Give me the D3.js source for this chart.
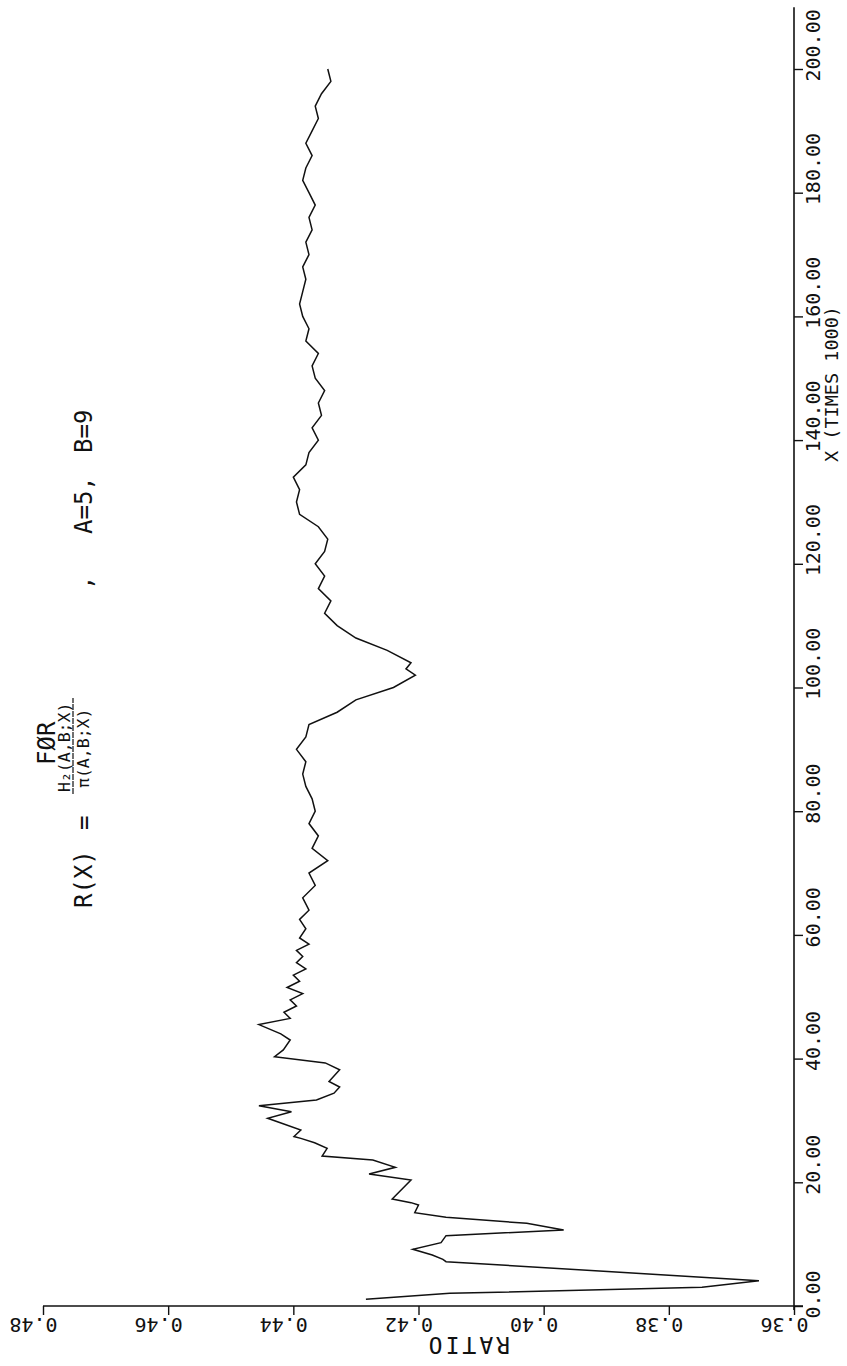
<!DOCTYPE html>
<html>
<head>
<meta charset="utf-8">
<script src="https://cdnjs.cloudflare.com/ajax/libs/d3/7.8.5/d3.min.js"></script>
<style>
body { margin: 0; background: #fff; }
text { font-family: "DejaVu Sans Mono", "Liberation Mono", monospace; fill: #111; }
</style>
</head>
<body>
<div id="chart"></div>
<script>
// x in thousands, ratio H2/pi
var xVals = [1.08, 2.05, 3.02, 4.1, 7.16, 7.55, 8.25, 9.16, 10.24, 11.37, 12.29, 13.37, 14.34, 15.09, 16.33, 16.71, 17.3,
  20.37, 21.34, 22.42, 23.6, 24.25, 25.5, 26.4, 27.1, 27.4, 28.46, 30.35, 31.42, 32.39, 33.3, 34.4, 35.4, 36.3, 38.2, 39.3, 40.3, 41.4,
  43, 44, 45.5, 46.5, 47.5, 48.5, 49.5, 50.5, 51.5, 52.5, 53.5, 54.5, 55.5, 56.5, 57.5, 58.5, 59.5, 61, 62.5, 64, 66, 68, 70, 72, 74, 76, 78, 80,
  82, 84, 86, 88, 90, 92, 94, 96, 98, 100, 102, 103, 104, 106, 108, 110, 112, 114, 116, 118, 120, 122, 124, 126, 128,
  130, 132, 134, 136, 138, 140, 142, 144, 146, 148, 150, 152, 154, 156, 158, 160, 162, 164, 166, 168, 170, 172, 174,
  176, 178, 180, 182, 184, 186, 188, 190, 192, 194, 196, 198, 200];
var ratioVals = [0.4284, 0.4150, 0.3747, 0.3656, 0.4156, 0.4161, 0.4178, 0.4209, 0.4164, 0.4156, 0.3968, 0.4027, 0.4156, 0.4206, 0.4200, 0.4212, 0.4242,
  0.4212, 0.4279, 0.4237, 0.4273, 0.4354, 0.4346, 0.4366, 0.4388, 0.4399, 0.4388, 0.4441, 0.4403, 0.4455, 0.4363, 0.4335, 0.4326, 0.4343, 0.4326, 0.4349, 0.4430, 0.4416,
  0.4405, 0.4420, 0.4455, 0.4405, 0.4415, 0.4395, 0.4405, 0.4385, 0.4410, 0.4390, 0.4400, 0.4380, 0.4395, 0.4385, 0.4395, 0.4375, 0.4390, 0.4380, 0.4390, 0.4375, 0.4385, 0.4365, 0.4375, 0.4345, 0.4370, 0.4360, 0.4375, 0.4365,
  0.4370, 0.4380, 0.4385, 0.4380, 0.4395, 0.4380, 0.4375, 0.4330, 0.4300, 0.4240, 0.4205, 0.4220, 0.4212, 0.4250, 0.4300, 0.4330, 0.4350, 0.4340, 0.4360, 0.4350, 0.4365, 0.4350, 0.4345, 0.4360, 0.4390,
  0.4395, 0.4390, 0.4400, 0.4380, 0.4375, 0.4360, 0.4370, 0.4355, 0.4360, 0.4350, 0.4365, 0.4370, 0.4360, 0.4380, 0.4375, 0.4385, 0.4390, 0.4385, 0.4380, 0.4385, 0.4375, 0.4380, 0.4370,
  0.4375, 0.4365, 0.4375, 0.4385, 0.4380, 0.4370, 0.4380, 0.4370, 0.4360, 0.4365, 0.4355, 0.4340, 0.4345];

var xTicks = [0, 20, 40, 60, 80, 100, 120, 140, 160, 180, 200];
var ratioTicks = [0.36, 0.38, 0.40, 0.42, 0.44, 0.46, 0.48];

var svg = d3.select("#chart").append("svg")
  .attr("width", 847)
  .attr("height", 1366);

// the plot is drawn turned a quarter turn: x runs up the right side, ratio runs leftwards along the bottom
var xS = d3.scaleLinear().domain([0, 200]).range([1306, 69]);
var rS = d3.scaleLinear().domain([0.36, 0.48]).range([794, 43]);

// right axis (X)
var xAxis = svg.append("g")
  .attr("transform", "translate(" + rS(0.36) + ",0)")
  .call(d3.axisRight(xS).tickValues(xTicks).tickSize(9).tickFormat(d3.format(".2f")));
xAxis.select(".domain").remove();
xAxis.append("line")
  .attr("x1", 0).attr("x2", 0)
  .attr("y1", xS(0) + 4).attr("y2", xS(210))
  .attr("stroke", "#111").attr("stroke-width", 1.6);
xAxis.selectAll(".tick line").attr("stroke", "#111").attr("stroke-width", 1.4);
xAxis.selectAll(".tick text")
  .attr("x", null).attr("dy", null)
  .attr("transform", "translate(26,12) rotate(-90)")
  .style("text-anchor", "start")
  .style("font-size", "20px")
  .attr("fill", "#111");

// bottom axis (ratio)
var rAxis = svg.append("g")
  .attr("transform", "translate(0," + xS(0) + ")")
  .call(d3.axisBottom(rS).tickValues(ratioTicks).tickSize(9).tickFormat(d3.format(".2f")));
rAxis.select(".domain").remove();
rAxis.append("line")
  .attr("x1", rS(0.48)).attr("x2", rS(0.36) + 9)
  .attr("y1", 0).attr("y2", 0)
  .attr("stroke", "#111").attr("stroke-width", 1.6);
rAxis.selectAll(".tick line").attr("stroke", "#111").attr("stroke-width", 1.4);
rAxis.selectAll(".tick text")
  .attr("y", null).attr("dy", null)
  .attr("transform", "translate(14,12) rotate(180)")
  .style("text-anchor", "start")
  .style("font-size", "20px")
  .attr("fill", "#111");

// axis titles
svg.append("text")
  .attr("transform", "translate(510,1337) rotate(180)")
  .style("font-size", "23px")
  .style("letter-spacing", "3px")
  .text("RATIO");
svg.append("text")
  .attr("transform", "translate(838,462) rotate(-90)")
  .style("font-size", "18.5px")
  .text("X (TIMES 1000)");

// title block
function vtext(x, y, size, s) {
  return svg.append("text")
    .attr("transform", "translate(" + x + "," + y + ") rotate(-90)")
    .style("font-size", size + "px")
    .text(s);
}
vtext(55, 765, 24, "FØR");
vtext(92, 908, 24, "R(X)");
vtext(92, 830, 24, "=");
vtext(70, 792, 16.5, "H₂(A,B;X)");
vtext(89, 788, 16.5, "π(A,B;X)");
svg.append("line")
  .attr("x1", 73).attr("x2", 73)
  .attr("y1", 794).attr("y2", 698)
  .attr("stroke", "#111").attr("stroke-width", 1.2)
  .attr("stroke-dasharray", "6,1");
vtext(92, 590, 24, ",");
vtext(92, 534, 24, "A=5,");
vtext(92, 453, 24, "B=9");

// curve
var pts = xVals.map(function(x, i) { return [x, ratioVals[i]]; });
var line = d3.line()
  .x(function(d) { return rS(d[1]); })
  .y(function(d) { return xS(d[0]); });
svg.append("path")
  .datum(pts)
  .attr("d", line)
  .attr("fill", "none")
  .attr("stroke", "#111")
  .attr("stroke-width", 1.5)
  .attr("stroke-linejoin", "miter");
</script>
</body>
</html>
